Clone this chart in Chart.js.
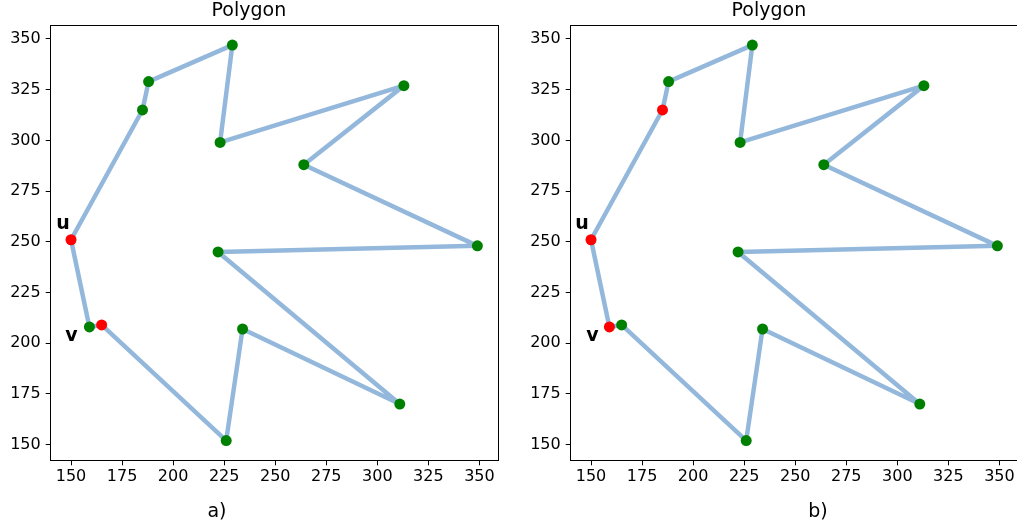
<!DOCTYPE html>
<html>
<head>
<meta charset="utf-8">
<script src="https://cdn.jsdelivr.net/npm/chart.js@4/dist/chart.umd.min.js"></script>
<style>
html,body{margin:0;padding:0;background:#fff;overflow:hidden;width:1017px;height:531px;}
canvas{position:absolute;top:0;}
#chartA{left:0;}
#chartB{left:520px;}
</style>
</head>
<body>
<canvas id="chartA" width="510" height="531"></canvas>
<canvas id="chartB" width="510" height="531"></canvas>
<script>
// polygon vertices, in drawing order
var polyX=[150,185,188,229,223,313,264,349,222,311,234,226,165,159];
var polyY=[251,315,329,347,299,327,288,248,245,170,207,152,209,208];
// which vertices are red in each panel
var redA=[0,12];
var redB=[0,13,1];
var tickVals=[150,175,200,225,250,275,300,325,350];
var labelU=0, labelV=13;

var FONT='"DejaVu Sans", sans-serif';

function pts(idx){
  return idx.map(function(i){return {x:polyX[i],y:polyY[i]};});
}
function allIdx(){
  var a=[];for(var i=0;i<polyX.length;i++)a.push(i);return a;
}

var framePlugin={
  id:'frame',
  afterDraw:function(chart){
    var c=chart.ctx,a=chart.chartArea,o=chart.options.plugins.frame;
    c.save();
    c.strokeStyle='#000';c.lineWidth=1;
    c.strokeRect(Math.round(a.left)-0.5,Math.round(a.top)+0.5,Math.round(a.right-a.left)+1,Math.round(a.bottom-a.top));
    // u / v labels
    var xs=chart.scales.x,ys=chart.scales.y;
    c.fillStyle='#000';
    c.font='bold 19px '+FONT;
    c.textAlign='center';c.textBaseline='middle';
    c.fillText('u',xs.getPixelForValue(polyX[labelU])+o.uDx,ys.getPixelForValue(polyY[labelU])-16);
    c.fillText('v',xs.getPixelForValue(polyX[labelV])+o.vDx,ys.getPixelForValue(polyY[labelV])+9);
    // panel caption
    c.font='19px '+FONT;
    c.fillText(o.caption,o.capX,512);
    c.restore();
  }
};

function makeChart(id,red,caption,capX,uDx,vDx){
  var green=allIdx().filter(function(i){return red.indexOf(i)<0;});
  var ring=pts(allIdx());ring.push({x:polyX[0],y:polyY[0]});
  return new Chart(document.getElementById(id),{
    type:'scatter',
    data:{
      datasets:[
        {data:pts(red),backgroundColor:'#ff0000',pointRadius:5.5,pointBorderWidth:0,showLine:false},
        {data:pts(green),backgroundColor:'#008000',pointRadius:5.5,pointBorderWidth:0,showLine:false},
        {data:ring,showLine:true,borderColor:'rgb(148,184,220)',borderWidth:4.5,borderJoinStyle:'round',borderCapStyle:'round',pointRadius:0,tension:0}
      ]
    },
    options:{
      responsive:false,animation:false,devicePixelRatio:1,
      layout:{padding:{left:0,right:12.3,top:0,bottom:0}},
      plugins:{
        legend:{display:false},tooltip:{enabled:false},
        title:{display:true,text:'Polygon',color:'#000',font:{family:FONT,size:19,weight:'normal'},padding:{top:0,bottom:2.5}},
        frame:{caption:caption,capX:capX,uDx:uDx,vDx:vDx}
      },
      scales:{
        x:{
          type:'linear',min:140.05,max:358.95,
          afterBuildTicks:function(s){s.ticks=tickVals.map(function(v){return {value:v};});},
          afterFit:function(s){s.height=70.7;},
          grid:{display:true,drawOnChartArea:false,drawTicks:true,tickLength:5,color:'#000'},
          border:{display:true,color:'#000'},
          ticks:{color:'#000',font:{family:FONT,size:16},padding:2,maxRotation:0,autoSkip:false}
        },
        y:{
          type:'linear',min:142.25,max:356.75,
          afterBuildTicks:function(s){s.ticks=tickVals.map(function(v){return {value:v};});},
          afterFit:function(s){s.width=50.7;},
          grid:{display:true,drawOnChartArea:false,drawTicks:true,tickLength:5,color:'#000'},
          border:{display:true,color:'#000'},
          ticks:{color:'#000',font:{family:FONT,size:16},padding:5,autoSkip:false}
        }
      }
    },
    plugins:[framePlugin]
  });
}

makeChart('chartA',redA,'a)',217,-8,-18);
makeChart('chartB',redB,'b)',298,-9,-17);
</script>
</body>
</html>
